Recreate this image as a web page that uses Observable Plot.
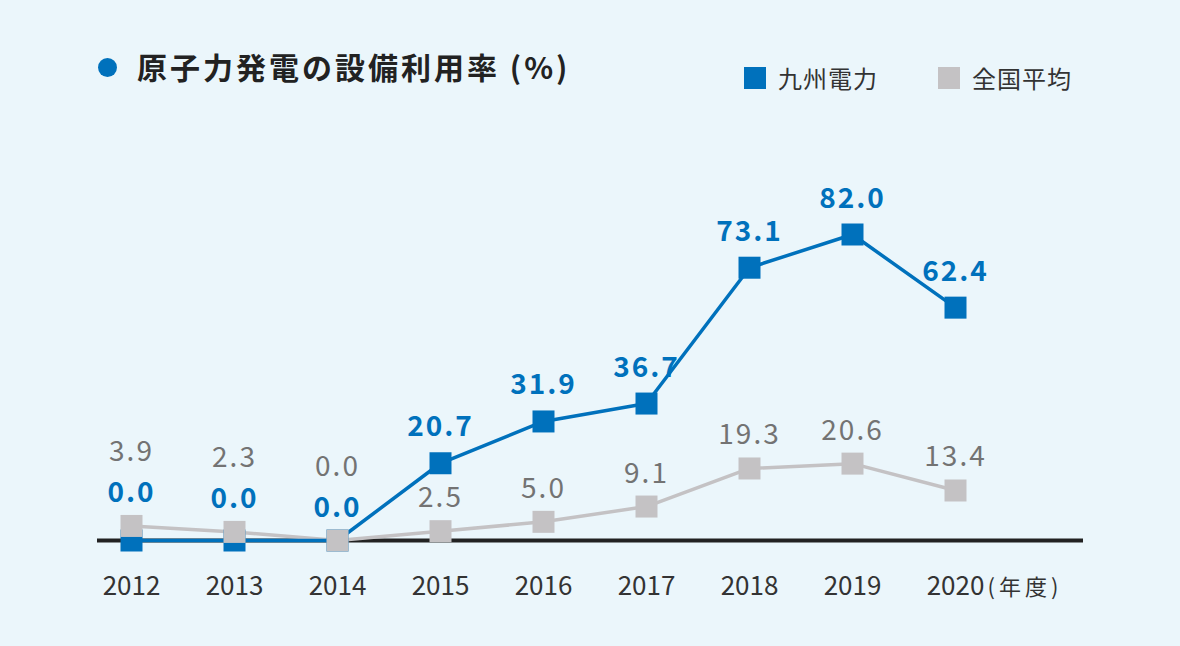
<!DOCTYPE html>
<html>
<head>
<meta charset="utf-8">
<script src="https://cdn.jsdelivr.net/npm/d3@7"></script>
<script src="https://cdn.jsdelivr.net/npm/@observablehq/plot@0.6"></script>
<style>
  html, body { margin: 0; padding: 0; background: #EBF6FB; }
  #wrap { position: relative; width: 1180px; height: 646px; background: #EBF6FB; font-family: "Noto Sans CJK JP", "Noto Sans", sans-serif; overflow: hidden; }
  #title { position: absolute; left: 98px; top: 51px; display: flex; align-items: center; }
  #title .dot { width: 19px; height: 19px; border-radius: 50%; background: #0071BC; margin-right: 20px; margin-top: 2px; }
  #title .txt { font-size: 30px; line-height: 30px; font-weight: 700; color: #222; letter-spacing: 3px; }
  .leg { position: absolute; top: 66px; display: flex; align-items: center; }
  .leg .sw { width: 22px; height: 22px; margin-right: 12px; }
  .leg .lbl { font-size: 24px; line-height: 24px; color: #333; letter-spacing: 1px; }
  #chart { position: absolute; left: 0; top: 0; }
</style>
</head>
<body>
<div id="wrap">
  <div id="chart"></div>
  <div id="title"><div class="dot"></div><div class="txt"></div></div>
  <div id="legend"></div>
</div>
<script>
// ---- data ----
const years = [2012, 2013, 2014, 2015, 2016, 2017, 2018, 2019, 2020];
const kyushu = [0.0, 0.0, 0.0, 20.7, 31.9, 36.7, 73.1, 82.0, 62.4];
const national = [3.9, 2.3, 0.0, 2.5, 5.0, 9.1, 19.3, 20.6, 13.4];
const seriesNames = ["九州電力", "全国平均"];
const seriesColors = ["#0071BC", "#C4C2C4"];
const titleText = "原子力発電の設備利用率 (%)";
const unitText = "(年度)";

// ---- title & legend ----
document.querySelector("#title .txt").textContent = titleText;
const legendX = [744, 938];
const legend = document.getElementById("legend");
seriesNames.forEach((name, i) => {
  const el = document.createElement("div");
  el.className = "leg";
  el.style.left = legendX[i] + "px";
  el.innerHTML = `<div class="sw" style="background:${seriesColors[i]}"></div><div class="lbl">${name}</div>`;
  legend.appendChild(el);
});

// ---- table ----
const blueRows = years.map((year, i) => ({year, value: kyushu[i], other: national[i]}));
const grayRows = years.map((year, i) => ({year, value: national[i], other: kyushu[i]}));
// labels: when Kyushu is not above the national average, stack both labels above the national point
const blueLabels = blueRows.map(d => {
  const stacked = d.value <= d.other;
  return {...d, ly: stacked ? d.other : d.value, dy: stacked ? -24 : -27};
});
const grayLabels = grayRows.map(d => {
  const stacked = d.other <= d.value;
  return {...d, ly: d.value, dy: stacked ? -65 : -24};
});

const squareR = 22 / Math.sqrt(Math.PI);

const chart = Plot.plot({
  width: 1180,
  height: 646,
  marginLeft: 97,
  marginRight: 97,
  marginTop: 0,
  marginBottom: 106,
  style: {background: "transparent", fontFamily: "'Noto Sans CJK JP', 'Noto Sans', sans-serif", overflow: "visible"},
  x: {type: "point", domain: years, range: [130, 955], padding: 0, axis: null},
  y: {domain: [0, 82], range: [540, 234], axis: null},
  marks: [
    Plot.ruleY([0], {stroke: "#222", strokeWidth: 4}),
    Plot.line(grayRows, {x: "year", y: "value", stroke: seriesColors[1], strokeWidth: 3.5}),
    Plot.line(blueRows, {x: "year", y: "value", stroke: seriesColors[0], strokeWidth: 3.5}),
    Plot.dot(blueRows, {x: "year", y: "value", symbol: "square", r: squareR, fill: seriesColors[0], stroke: null}),
    Plot.dot(grayRows, {x: "year", y: "value", symbol: "square", r: squareR, fill: seriesColors[1], stroke: null}),
    Plot.text(grayLabels, {x: "year", y: "ly", text: d => d.value.toFixed(1), lineAnchor: "bottom", fontSize: 28, fill: "#737373", fontWeight: 400}),
    Plot.text(blueLabels, {x: "year", y: "ly", text: d => d.value.toFixed(1), lineAnchor: "bottom", fontSize: 28, fill: seriesColors[0], fontWeight: 700}),
    Plot.text(years, {x: d => d, frameAnchor: "bottom", dy: 54, text: d => String(d), lineAnchor: "bottom", fontSize: 26, fill: "#333"}),
    Plot.text([years[years.length - 1]], {x: d => d, frameAnchor: "bottom", dy: 54, dx: 32, text: () => unitText, textAnchor: "start", lineAnchor: "bottom", fontSize: 22, fill: "#333"})
  ]
});
document.getElementById("chart").appendChild(chart);

// apply per-label vertical offsets and letter spacing to the value labels
const groups = chart.querySelectorAll("g[aria-label='text']");
const applyDy = (g, rows, spacing) => {
  g.querySelectorAll("text").forEach((t, i) => {
    const tr = t.getAttribute("transform") || "";
    const m = tr.match(/translate\(([^,]+),([^)]+)\)/);
    if (m) t.setAttribute("transform", `translate(${+m[1]},${+m[2] + rows[i].dy})`);
    t.setAttribute("letter-spacing", spacing);
  });
};
applyDy(groups[0], grayLabels, 2);
applyDy(groups[1], blueLabels, 2);
groups[3].querySelectorAll("text").forEach(t => t.setAttribute("letter-spacing", 4));
</script>
</body>
</html>
